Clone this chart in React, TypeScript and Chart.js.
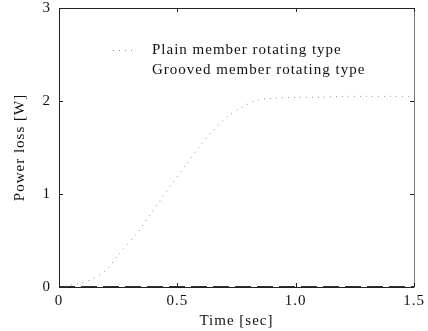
import React, { useEffect, useRef } from "react";
import { Chart, registerables } from "chart.js";

Chart.register(...registerables);

const timeSec = [0, 0.03, 0.09, 0.13, 0.2, 0.245, 0.33, 0.38, 0.43, 0.48, 0.54, 0.59, 0.64, 0.71, 0.77, 0.84, 0.91, 1.0, 1.1, 1.2, 1.3, 1.4, 1.5];
const plainLoss = [0, 0.01, 0.04, 0.075, 0.18, 0.33, 0.58, 0.76, 0.94, 1.12, 1.33, 1.5, 1.65, 1.83, 1.93, 2.01, 2.03, 2.04, 2.04, 2.05, 2.05, 2.05, 2.05];
const groovedLoss = [0, 0, 0, 0, 0, 0, 0, 0, 0, 0, 0, 0, 0, 0, 0, 0, 0, 0, 0, 0, 0, 0, 0];
const seriesLabels = ["Plain member rotating type", "Grooved member rotating type"];
const xTicks = [0, 0.5, 1, 1.5];
const yTicks = [0, 1, 2, 3];

const FONT = "'Liberation Serif', 'Times New Roman', serif";

const spacingPlugin = {
  id: "letterSpacing",
  beforeUpdate(chart: any) { chart.ctx.letterSpacing = "1px"; },
  beforeLayout(chart: any) { chart.ctx.letterSpacing = "1px"; },
  beforeDraw(chart: any) { chart.ctx.letterSpacing = "1px"; },
};

const framePlugin = {
  id: "frameAndLegend",
  afterDraw(chart: any) {
    const { ctx, chartArea } = chart;
    const { left, right, top, bottom } = chartArea;
    const xs = chart.scales.x;
    const ys = chart.scales.y;
    ctx.save();
    ctx.strokeStyle = "#222";
    ctx.lineWidth = 1;
    ctx.beginPath();
    ctx.moveTo(left + 0.5, bottom + 0.5);
    ctx.lineTo(left + 0.5, top + 0.5);
    ctx.lineTo(right + 0.5, top + 0.5);
    ctx.stroke();
    ctx.strokeStyle = "#777";
    ctx.beginPath();
    ctx.moveTo(right + 0.5, top + 0.5);
    ctx.lineTo(right + 0.5, bottom + 0.5);
    ctx.stroke();
    ctx.strokeStyle = "#222";
    ctx.beginPath();
    ctx.moveTo(left, bottom + 0.5);
    ctx.lineTo(right, bottom + 0.5);
    ctx.stroke();
    const t = 4;
    ctx.beginPath();
    xTicks.forEach((v) => {
      const px = Math.round(xs.getPixelForValue(v)) + 0.5;
      ctx.moveTo(px, bottom); ctx.lineTo(px, bottom - t);
      ctx.moveTo(px, top); ctx.lineTo(px, top + t);
    });
    yTicks.forEach((v) => {
      const py = Math.round(ys.getPixelForValue(v)) + 0.5;
      ctx.moveTo(left, py); ctx.lineTo(left + t, py);
      ctx.moveTo(right, py); ctx.lineTo(right - t, py);
    });
    ctx.stroke();
    // legend
    ctx.letterSpacing = "1px";
    ctx.font = "15px " + FONT;
    ctx.fillStyle = "#111";
    ctx.textBaseline = "middle";
    const lx = 152;
    const rows = [50, 70];
    chart.data.datasets.forEach((ds: any, i: number) => {
      ctx.fillText(ds.label, lx, rows[i]);
      if (i === 0) {
        ctx.strokeStyle = ds.borderColor;
        ctx.lineWidth = 1;
        ctx.setLineDash(ds.borderDash || []);
        ctx.beginPath();
        ctx.moveTo(113, rows[i] + 0.5);
        ctx.lineTo(136, rows[i] + 0.5);
        ctx.stroke();
        ctx.setLineDash([]);
      }
    });
    ctx.restore();
  },
};

export default function App() {
  const ref = useRef<HTMLCanvasElement>(null);
  useEffect(() => {
    document.body.style.margin = "0";
    const chart = new Chart(ref.current!, {
      type: "line",
      data: {
        datasets: [
          {
            label: seriesLabels[0],
            data: timeSec.map((t, i) => ({ x: t, y: plainLoss[i] })),
            borderColor: "#8a8a8a",
            borderWidth: 1,
            borderDash: [1, 5],
            pointRadius: 0,
            tension: 0.3,
          },
          {
            label: seriesLabels[1],
            data: timeSec.map((t, i) => ({ x: t, y: groovedLoss[i] })),
            borderColor: "#333",
            borderWidth: 2,
            borderDash: [16, 6],
            pointRadius: 0,
          },
        ],
      },
      options: {
        animation: false,
        responsive: false,
        layout: { padding: 0 },
        plugins: { legend: { display: false }, tooltip: { enabled: false } },
        scales: {
          x: {
            type: "linear",
            min: 0,
            max: 1.5,
            afterBuildTicks: (s: any) => { s.ticks = xTicks.map((v) => ({ value: v })); },
            afterFit: (s: any) => { s.height = 44; s.paddingLeft = 0; s.paddingRight = 14; },
            grid: { display: false, drawTicks: false },
            border: { display: false },
            ticks: { color: "#111", font: { family: FONT, size: 15 }, padding: 5, maxRotation: 0 },
            title: { display: true, text: "Time [sec]", color: "#111", font: { family: FONT, size: 15 }, padding: { top: 0, bottom: 1 } },
          },
          y: {
            type: "linear",
            min: 0,
            max: 3,
            afterBuildTicks: (s: any) => { s.ticks = yTicks.map((v) => ({ value: v })); },
            afterFit: (s: any) => { s.width = 59; s.paddingTop = 8; s.paddingBottom = 0; },
            grid: { display: false, drawTicks: false },
            border: { display: false },
            ticks: { color: "#111", font: { family: FONT, size: 15 }, padding: 8 },
            title: { display: true, text: "Power loss [W]", color: "#111", font: { family: FONT, size: 15 }, padding: { top: 11, bottom: 0 } },
          },
        },
      },
      plugins: [spacingPlugin, framePlugin],
    } as any);
    return () => chart.destroy();
  }, []);
  return <canvas ref={ref} width={428} height={331} style={{ display: "block" }} />;
}
